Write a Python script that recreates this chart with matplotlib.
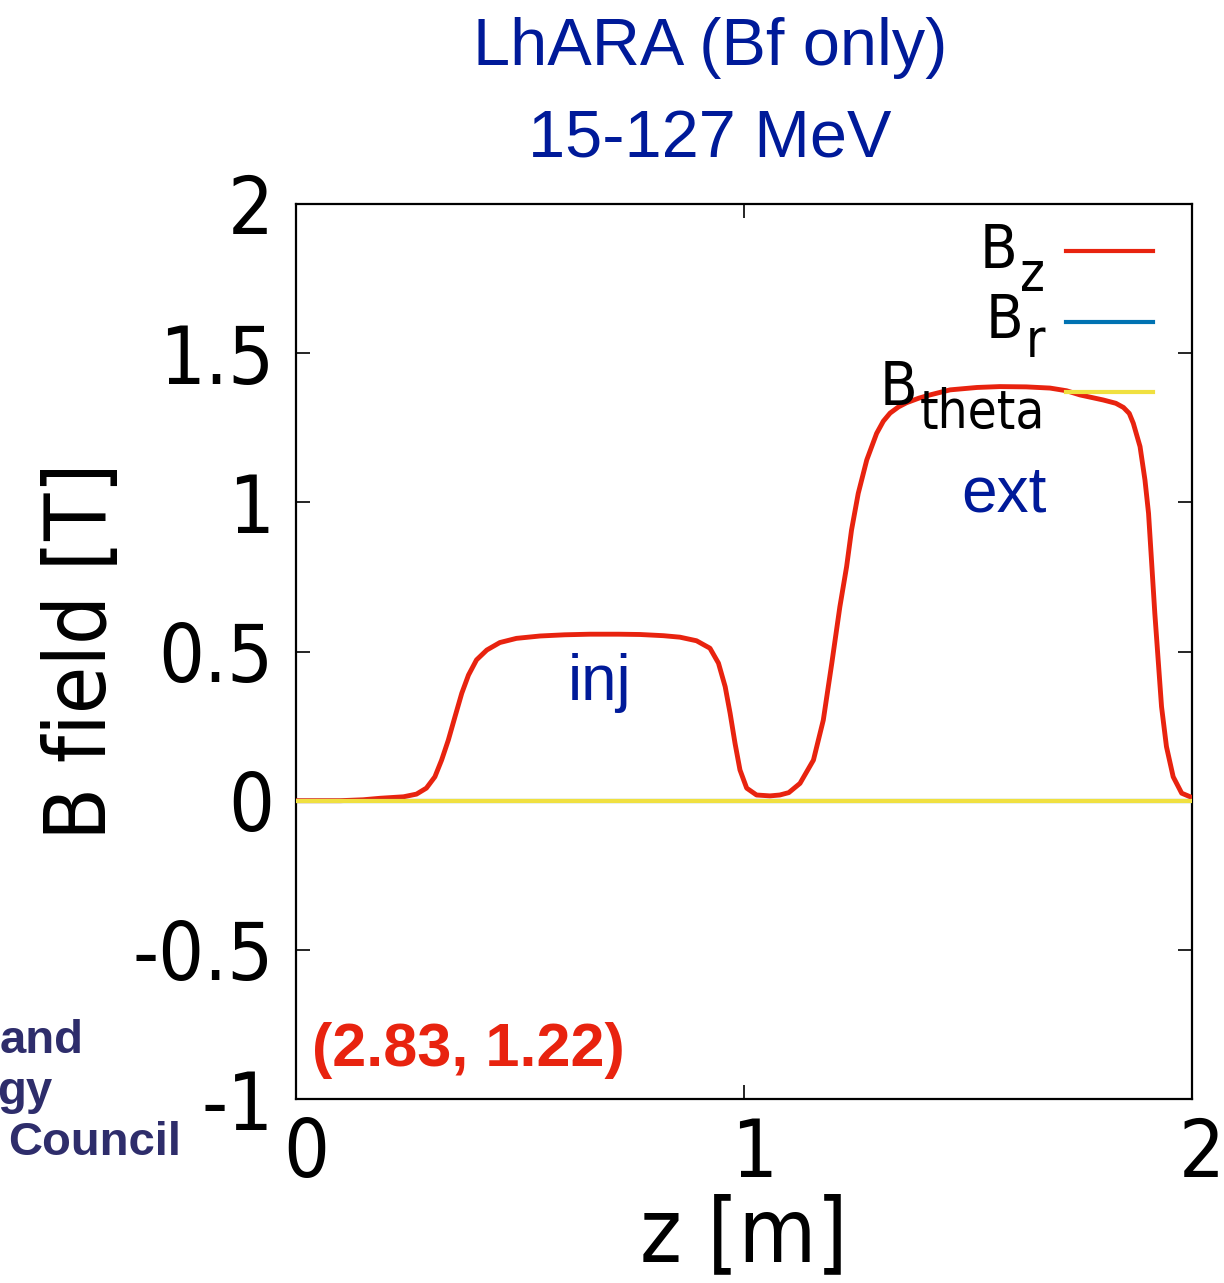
import numpy as np
import matplotlib
matplotlib.use("Agg")
import matplotlib.pyplot as plt
import matplotlib.transforms as mtransforms

# Longitudinal position along the FFA (m) and on-axis field components (T)
z_m = [0.000, 0.100, 0.150, 0.1875, 0.240, 0.269, 0.291, 0.310, 0.325, 0.340,
       0.355, 0.370, 0.385, 0.403, 0.426, 0.455, 0.492, 0.545, 0.600, 0.656,
       0.720, 0.768, 0.820, 0.857, 0.894, 0.924, 0.943, 0.958, 0.969, 0.980,
       0.991, 1.006, 1.028, 1.058, 1.080, 1.100, 1.125, 1.155, 1.177, 1.196,
       1.214, 1.229, 1.240, 1.255, 1.274, 1.296, 1.311, 1.326, 1.345, 1.363,
       1.390, 1.415, 1.460, 1.520, 1.571, 1.630, 1.683, 1.720, 1.750, 1.802,
       1.830, 1.847, 1.860, 1.869, 1.884, 1.895, 1.903, 1.910, 1.917, 1.925,
       1.932, 1.943, 1.958, 1.977, 1.996, 2.000]
b_z = [0.000, 0.000, 0.003, 0.008, 0.013, 0.022, 0.042, 0.080, 0.136, 0.203,
       0.282, 0.360, 0.421, 0.472, 0.505, 0.530, 0.544, 0.552, 0.556, 0.558,
       0.558, 0.557, 0.553, 0.548, 0.536, 0.511, 0.461, 0.382, 0.293, 0.192,
       0.103, 0.042, 0.019, 0.016, 0.019, 0.027, 0.058, 0.136, 0.270, 0.461,
       0.650, 0.784, 0.907, 1.030, 1.142, 1.231, 1.272, 1.299, 1.320, 1.334,
       1.349, 1.360, 1.377, 1.385, 1.388, 1.387, 1.383, 1.374, 1.360, 1.343,
       1.332, 1.318, 1.298, 1.265, 1.187, 1.075, 0.963, 0.796, 0.628, 0.461,
       0.315, 0.181, 0.080, 0.025, 0.013, 0.010]
b_r = [0.0] * len(z_m)
b_theta = [0.0] * len(z_m)

x_ticks = [0, 1, 2]
y_ticks = [-1, -0.5, 0, 0.5, 1, 1.5, 2]
y_tick_labels = ["-1", "-0.5", "0", "0.5", "1", "1.5", "2"]

RED = "#e8230f"
BLUE = "#0072b2"
YELLOW = "#f0e040"
NAVY = "#001a99"
LOGO = "#2e2d6b"

W, H = 1224, 1283
cond = dict(family="DejaVu Sans", stretch="condensed")

fig = plt.figure(figsize=(W / 100, H / 100), dpi=100)
ax = fig.add_axes([296 / W, 1 - 1099 / H, 896 / W, 895 / H])

ax.plot(z_m, b_z, color=RED, lw=3.5, zorder=3, solid_joinstyle="round")
ax.plot(z_m, b_r, color=BLUE, lw=3.0, zorder=4)
ax.plot(z_m, b_theta, color=YELLOW, lw=3.0, zorder=5)

ax.set_xlim(0, 2)
ax.set_ylim(-1, 2)
ax.set_xticks(x_ticks)
ax.set_xticklabels([str(v) for v in x_ticks], fontsize=58, **cond)
ax.set_yticks(y_ticks)
ax.set_yticklabels(y_tick_labels, fontsize=58, **cond)
ax.tick_params(direction="in", length=10, width=1.2, top=True, right=True,
               pad=16)
ax.tick_params(axis="x", pad=12)
for s in ax.spines.values():
    s.set_linewidth(1.6)

# x tick labels sit a little to the right of their ticks
shift = mtransforms.ScaledTranslation(10 / 100, 0, fig.dpi_scale_trans)
for lab in ax.get_xticklabels():
    lab.set_transform(lab.get_transform() + shift)

ax.set_xlabel("z [m]", fontsize=64, labelpad=0, **cond)
ax.set_ylabel("B field [T]", fontsize=62, labelpad=6, **cond)


def fx(px):
    return px / W


def fy(py):
    return 1 - py / H


# Key: right-aligned labels built from a main letter and a subscript
renderer = fig.canvas.get_renderer()
key = [("z", RED, 251, 268, 290),
       ("r", BLUE, 322, 338, 357),
       ("theta", YELLOW, 392, 405, 428)]
for sub, col, y_line, y_base, y_sub in key:
    ax.plot([fx(1066), fx(1153)], [fy(y_line), fy(y_line)], color=col,
            lw=3.0, transform=fig.transFigure, clip_on=False, zorder=6)
    t_sub = fig.text(fx(1045), fy(y_sub), sub, ha="right", va="baseline",
                     fontsize=38, zorder=7, **cond)
    x0 = t_sub.get_window_extent(renderer).x0
    fig.text(x0 / W - 0.002, fy(y_base), "B", ha="right", va="baseline",
             fontsize=44, zorder=7, **cond)

ax.text(0.339, 0.465, "inj", transform=ax.transAxes, ha="center",
        va="center", color=NAVY, fontsize=46, family="Liberation Sans")
ax.text(0.790, 0.675, "ext", transform=ax.transAxes, ha="center",
        va="center", color=NAVY, fontsize=46, family="Liberation Sans")
ax.text(0.018, 0.054, "(2.83, 1.22)", transform=ax.transAxes, ha="left",
        va="center", color=RED, fontsize=44, fontweight="bold",
        family="Liberation Sans")

fig.text(0.58, fy(48), "LhARA (Bf only)", ha="center", va="center",
         color=NAVY, fontsize=48, family="Liberation Sans")
fig.text(0.58, fy(140), "15-127 MeV", ha="center", va="center",
         color=NAVY, fontsize=48, family="Liberation Sans")

fig.text(0.0, fy(1041), "and", ha="left", va="center", color=LOGO,
         fontsize=34, fontweight="bold", family="Liberation Sans")
fig.text(-0.002, fy(1092), "gy", ha="left", va="center", color=LOGO,
         fontsize=34, fontweight="bold", family="Liberation Sans")
fig.text(0.007, fy(1143), "Council", ha="left", va="center",
         color=LOGO, fontsize=34, fontweight="bold", family="Liberation Sans")

fig.savefig("out.png", dpi=100)
